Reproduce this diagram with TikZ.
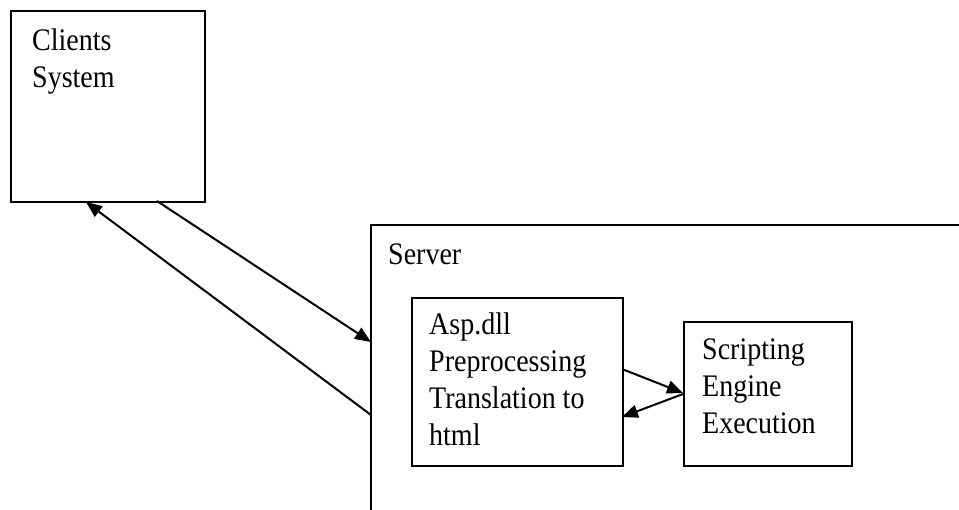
\documentclass[tikz,border=0pt]{standalone}
\usepackage{fontspec}
\setmainfont{Liberation Serif}
\usetikzlibrary{arrows.meta}
\newcommand{\tallstack}[1]{\scalebox{1}[1.12]{\fontsize{28}{33}\selectfont\begin{tabular}[b]{@{}l@{}}#1\end{tabular}}}
\begin{document}
\begin{tikzpicture}[x=1pt,y=-1pt,
  box/.style={draw, line width=2pt, anchor=north west, inner sep=0pt},
  lbl/.style={anchor=base west, inner sep=0pt},
  conn/.style={line width=2pt, -{Triangle[length=16pt,width=13pt]}}]
\renewcommand{\arraystretch}{1}
\useasboundingbox (0,0) rectangle (959,509);
% boxes
\node[box, minimum width=194pt, minimum height=191pt] (clients) at (10,10) {};
\draw[line width=2pt] (971,520) -- (371,520) -- (371,225) -- (971,225);
\coordinate (server) at (371,225);
\node[box, minimum width=211pt, minimum height=168pt] (asp) at (411,297) {};
\node[box, minimum width=168pt, minimum height=144pt] (script) at (683,321) {};
% texts (anchored at the baseline of the last line)
\node[lbl] (tclients) at (32,87) {\tallstack{Clients\\System}};
\node[lbl] (tserver) at (388,264) {\tallstack{Server}};
\node[lbl] (tasp) at (429,445) {\tallstack{Asp.dll\\Preprocessing\\Translation to\\html}};
\node[lbl] (tscript) at (702,433) {\tallstack{Scripting\\Engine\\Execution}};
% connector end points
\coordinate (c1) at (157,201);
\coordinate (s1) at (371,342);
\coordinate (s2) at (371,415);
\coordinate (c2) at (86,202);
\coordinate (a1) at (622,369);
\coordinate (e1) at (683,393);
\coordinate (e2) at (683,394);
\coordinate (a2) at (622,417);
% connectors
\draw[conn] (c1) -- (s1);
\draw[conn] (s2) -- (c2);
\draw[conn] (a1) -- (e1);
\draw[conn] (e2) -- (a2);
\end{tikzpicture}
\end{document}
